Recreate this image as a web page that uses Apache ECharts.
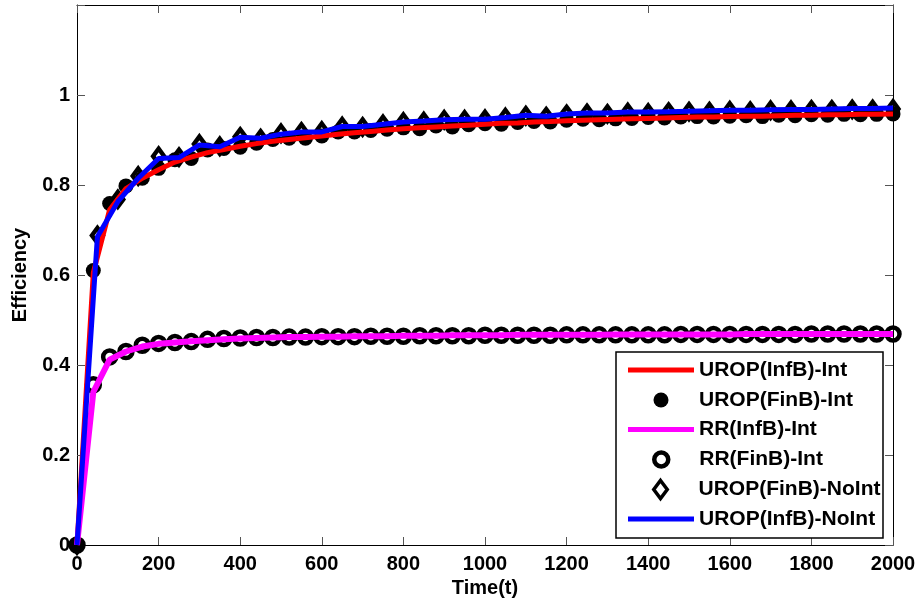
<!DOCTYPE html>
<html>
<head>
<meta charset="UTF-8">
<title>Efficiency</title>
<script src="https://cdn.jsdelivr.net/npm/echarts@6/dist/echarts.min.js"></script>
<style>
  html, body { margin: 0; padding: 0; background: #fff; }
  #chart { width: 917px; height: 610px; }
</style>
</head>
<body>
<div id="chart"></div>
<script>
// sample times
var times40 = [0, 40, 80, 120, 160, 200, 240, 280, 320, 360, 400, 440, 480, 520, 560, 600, 640, 680,
  720, 760, 800, 840, 880, 920, 960, 1000, 1040, 1080, 1120, 1160, 1200, 1240, 1280, 1320, 1360, 1400,
  1440, 1480, 1520, 1560, 1600, 1640, 1680, 1720, 1760, 1800, 1840, 1880, 1920, 1960, 2000];
var times50 = [0, 50, 100, 150, 200, 250, 300, 350, 400, 450, 500, 550, 600, 650, 700, 750, 800, 850,
  900, 950, 1000, 1050, 1100, 1150, 1200, 1250, 1300, 1350, 1400, 1450, 1500, 1550, 1600, 1650, 1700,
  1750, 1800, 1850, 1900, 1950, 2000];

var uropInfInt = [0, 0.605, 0.745, 0.792, 0.815, 0.834, 0.851, 0.862, 0.872, 0.879, 0.886, 0.892, 0.897,
  0.901, 0.905, 0.909, 0.913, 0.916, 0.919, 0.922, 0.925, 0.927, 0.929, 0.931, 0.933, 0.935, 0.937, 0.938,
  0.940, 0.941, 0.943, 0.944, 0.945, 0.946, 0.947, 0.948, 0.949, 0.950, 0.951, 0.951, 0.952, 0.953, 0.953,
  0.954, 0.955, 0.955, 0.956, 0.956, 0.957, 0.957, 0.958];
var uropFinInt = [0, 0.610, 0.759, 0.798, 0.815, 0.837, 0.856, 0.859, 0.878, 0.881, 0.884, 0.893, 0.901,
  0.904, 0.904, 0.909, 0.918, 0.918, 0.921, 0.924, 0.927, 0.925, 0.931, 0.929, 0.934, 0.936, 0.935, 0.939,
  0.941, 0.940, 0.944, 0.946, 0.945, 0.947, 0.948, 0.950, 0.949, 0.951, 0.952, 0.951, 0.953, 0.954, 0.952,
  0.955, 0.954, 0.956, 0.955, 0.957, 0.956, 0.957, 0.958];
var rrInfInt = [0, 0.340, 0.412, 0.430, 0.441, 0.447, 0.450, 0.453, 0.455, 0.457, 0.459, 0.460, 0.461,
  0.462, 0.462, 0.463, 0.463, 0.464, 0.464, 0.464, 0.465, 0.465, 0.465, 0.466, 0.466, 0.466, 0.466, 0.467,
  0.467, 0.467, 0.467, 0.467, 0.467, 0.468, 0.468, 0.468, 0.468, 0.468, 0.468, 0.468, 0.468, 0.469, 0.469,
  0.469, 0.469, 0.469, 0.469, 0.469, 0.469, 0.469, 0.469];
var rrFinInt = [0, 0.356, 0.418, 0.430, 0.444, 0.448, 0.450, 0.452, 0.457, 0.459, 0.460, 0.461, 0.461,
  0.462, 0.462, 0.463, 0.463, 0.463, 0.464, 0.464, 0.464, 0.465, 0.465, 0.465, 0.465, 0.466, 0.466, 0.466,
  0.466, 0.466, 0.467, 0.467, 0.467, 0.467, 0.467, 0.467, 0.467, 0.468, 0.468, 0.468, 0.468, 0.468, 0.468,
  0.468, 0.468, 0.469, 0.469, 0.469, 0.469, 0.469, 0.469];
var uropFinNoInt = [0, 0.688, 0.768, 0.820, 0.864, 0.862, 0.891, 0.886, 0.907, 0.903, 0.915, 0.918, 0.920,
  0.930, 0.929, 0.935, 0.940, 0.941, 0.945, 0.945, 0.946, 0.950, 0.954, 0.952, 0.957, 0.959, 0.958, 0.961,
  0.960, 0.962, 0.963, 0.963, 0.965, 0.964, 0.966, 0.966, 0.967, 0.967, 0.968, 0.968, 0.969];
var uropInfNoInt = [0, 0.685, 0.763, 0.815, 0.859, 0.861, 0.889, 0.885, 0.906, 0.904, 0.913, 0.918, 0.918,
  0.930, 0.930, 0.935, 0.940, 0.942, 0.945, 0.946, 0.946, 0.950, 0.955, 0.953, 0.958, 0.960, 0.960, 0.962,
  0.962, 0.963, 0.964, 0.965, 0.966, 0.966, 0.967, 0.968, 0.968, 0.969, 0.970, 0.970, 0.971];

var names = ['UROP(InfB)-Int', 'UROP(FinB)-Int', 'RR(InfB)-Int', 'RR(FinB)-Int', 'UROP(FinB)-NoInt', 'UROP(InfB)-NoInt'];

function pairs(xs, ys) {
  var out = [];
  for (var i = 0; i < xs.length; i++) out.push([xs[i], ys[i]]);
  return out;
}

var font = '"Liberation Sans", Arial, Helvetica, sans-serif';
var labelStyle = { color: '#000', fontFamily: font, fontWeight: 'bold', fontSize: 20 };

// one legend per row so every icon gets its own size
var legendRows = [370, 400, 429.5, 459.5, 489.5, 519];
function legendItem(i, icon, h, left, itemStyle) {
  return {
    data: [{ name: names[i], icon: icon, itemStyle: itemStyle }],
    left: left, top: legendRows[i] - 12,
    itemWidth: 66, itemHeight: h, padding: 0,
    selectedMode: false,
    textStyle: { color: '#000', fontFamily: font, fontWeight: 'bold', fontSize: 21, lineHeight: 24 }
  };
}
var bar = 'path://M0,0H66V5H0Z';
var diamond = 'path://M6,0L12,8L6,16L0,8Z';

var chart = echarts.init(document.getElementById('chart'), null, { renderer: 'canvas' });
var option = {
  animation: false,
  backgroundColor: '#fff',
  grid: { left: 77, right: 24, top: 5, bottom: 65, containLabel: false, outerBoundsMode: 'none' },
  xAxis: [{
    type: 'value', min: 0, max: 2000, interval: 200,
    name: 'Time(t)', nameLocation: 'middle', nameGap: 32,
    nameTextStyle: labelStyle,
    axisLine: { onZero: false, lineStyle: { color: '#000', width: 1 } },
    axisTick: { inside: true, length: 8, lineStyle: { color: '#555' } },
    axisLabel: Object.assign({
      margin: 9, showMinLabel: true, showMaxLabel: true,
      formatter: function (v) { return String(v); }
    }, labelStyle),
    splitLine: { show: false }
  }, {
    type: 'value', position: 'top', min: 0, max: 2000, interval: 200,
    axisLine: { show: true, onZero: false, lineStyle: { color: '#000', width: 1 } },
    axisTick: { inside: true, length: 8, lineStyle: { color: '#555' } },
    axisLabel: { show: false },
    splitLine: { show: false }
  }],
  yAxis: [{
    type: 'value', min: 0, max: 1.2, interval: 0.2,
    name: 'Efficiency', nameLocation: 'middle', nameGap: 47, nameRotate: 90,
    nameTextStyle: labelStyle,
    axisLine: { show: true, onZero: false, lineStyle: { color: '#000', width: 1 } },
    axisTick: { show: true, inside: true, length: 8, lineStyle: { color: '#555' } },
    axisLabel: Object.assign({
      margin: 7,
      showMinLabel: true,
      formatter: function (v) { return v > 1.1 ? '' : String(Math.round(v * 10) / 10); }
    }, labelStyle),
    splitLine: { show: false }
  }, {
    type: 'value', position: 'right', min: 0, max: 1.2, interval: 0.2,
    axisLine: { show: true, onZero: false, lineStyle: { color: '#000', width: 1 } },
    axisTick: { show: true, inside: true, length: 8, lineStyle: { color: '#555' } },
    axisLabel: { show: false },
    splitLine: { show: false }
  }],
  legend: [
    legendItem(0, bar, 5, 628, { color: '#ff0000', borderWidth: 0 }),
    legendItem(1, 'circle', 15, 653.5, { color: '#000', borderWidth: 0 }),
    legendItem(2, bar, 5, 628, { color: '#ff00ff', borderWidth: 0 }),
    legendItem(3, 'circle', 14, 652, { color: '#fff', borderColor: '#000', borderWidth: 4.5 }),
    legendItem(4, diamond, 18, 652, { color: '#fff', borderColor: '#000', borderWidth: 3.5 }),
    legendItem(5, bar, 5, 628, { color: '#0000ff', borderWidth: 0 })
  ],
  graphic: [{
    type: 'rect', z: 3, silent: true,
    shape: { x: 616, y: 352, width: 267, height: 186 },
    style: { fill: '#fff', stroke: '#000', lineWidth: 1.5 }
  }],
  series: [{
    name: names[0], type: 'line', data: pairs(times40, uropInfInt),
    showSymbol: false, symbol: 'none',
    itemStyle: { color: '#ff0000' },
    lineStyle: { color: '#ff0000', width: 5 }
  }, {
    name: names[1], type: 'scatter', data: pairs(times40, uropFinInt),
    symbol: 'circle', symbolSize: 15, clip: false,
    itemStyle: { color: '#000', opacity: 1 }
  }, {
    name: names[2], type: 'line', data: pairs(times40, rrInfInt),
    showSymbol: false, symbol: 'none',
    itemStyle: { color: '#ff00ff' },
    lineStyle: { color: '#ff00ff', width: 6 }
  }, {
    name: names[3], type: 'scatter', data: pairs(times40, rrFinInt),
    symbol: 'circle', symbolSize: 13, clip: false,
    itemStyle: { color: 'rgba(0,0,0,0)', borderColor: '#000', borderWidth: 4.5, opacity: 1 }
  }, {
    name: names[4], type: 'scatter', data: pairs(times50, uropFinNoInt),
    symbol: diamond, symbolSize: [11, 15], clip: false,
    itemStyle: { color: 'rgba(0,0,0,0)', borderColor: '#000', borderWidth: 4.5, opacity: 1 }
  }, {
    name: names[5], type: 'line', data: pairs(times50, uropInfNoInt),
    showSymbol: false, symbol: 'none',
    itemStyle: { color: '#0000ff' },
    lineStyle: { color: '#0000ff', width: 5 }
  }]
};
chart.setOption(option);
</script>
</body>
</html>
